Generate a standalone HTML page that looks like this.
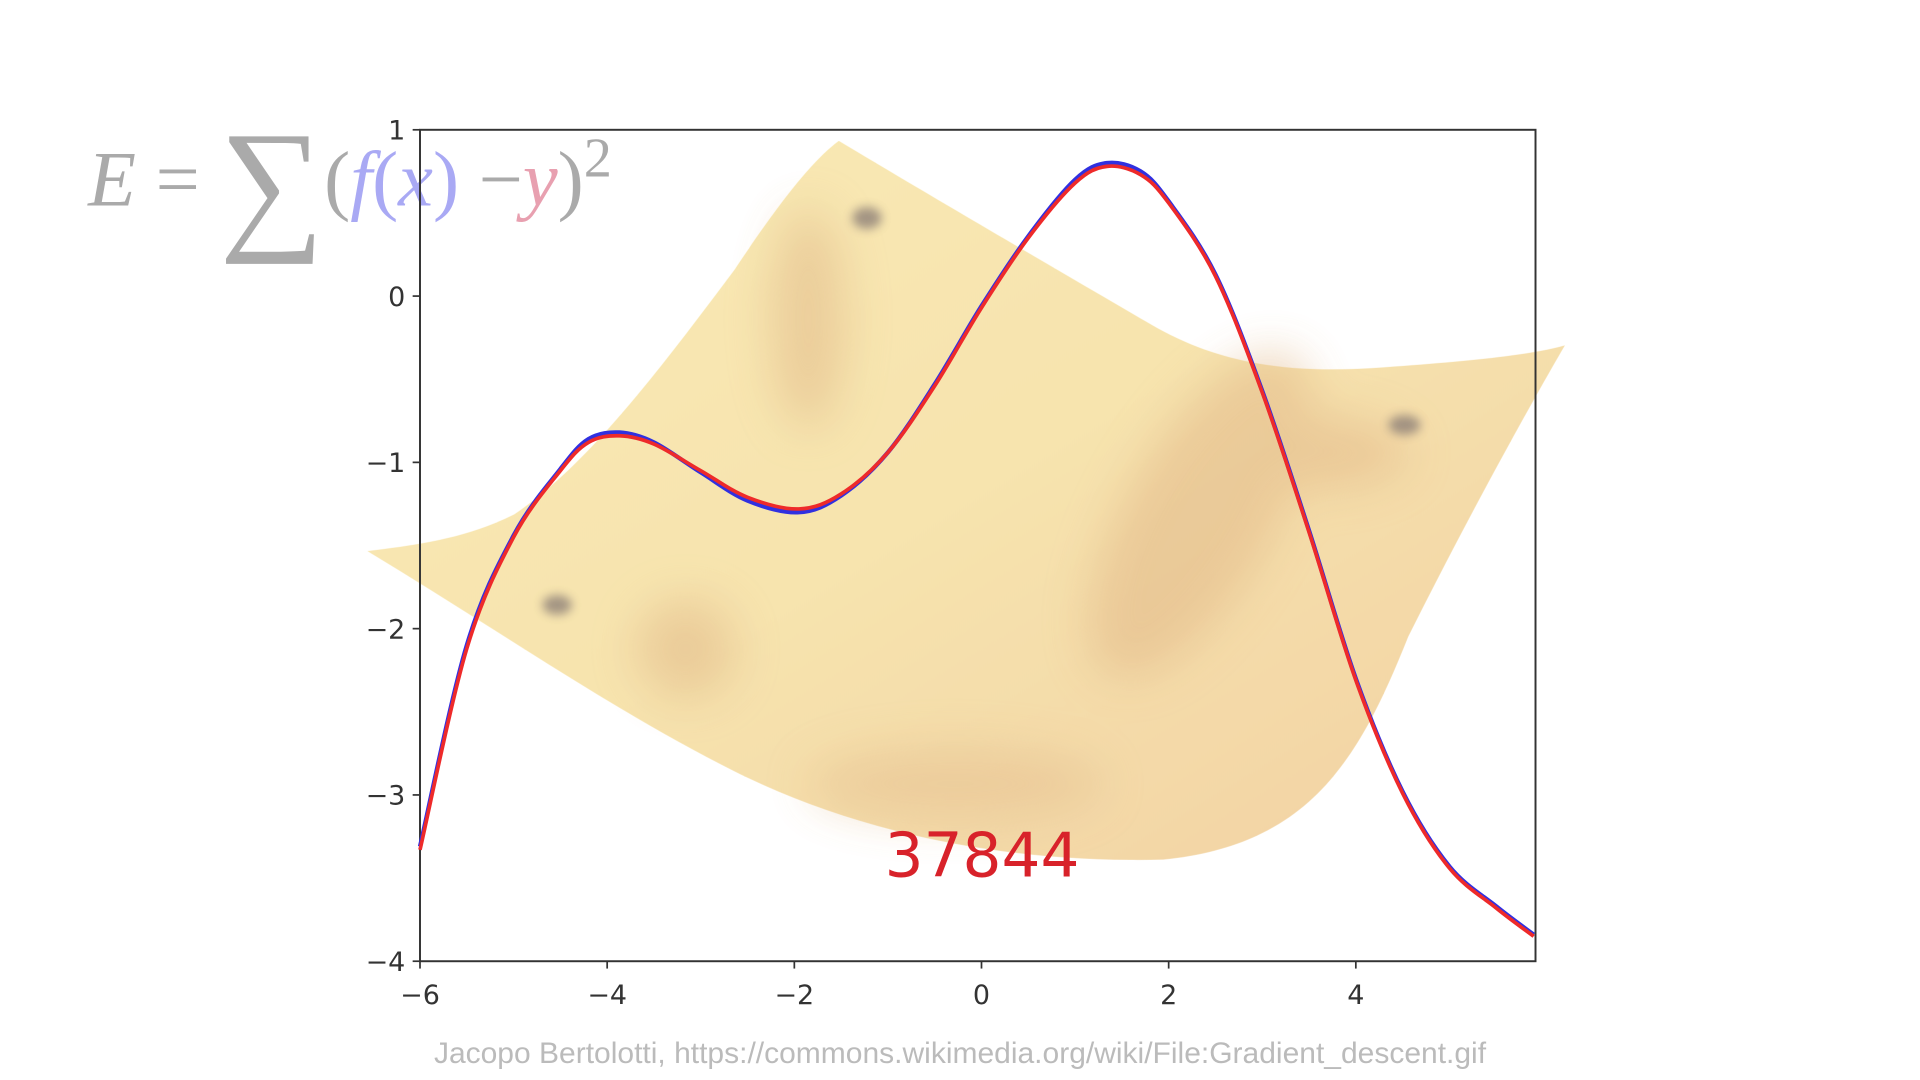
<!DOCTYPE html>
<html><head><meta charset="utf-8"><style>
html,body{margin:0;padding:0;background:#fff;width:1920px;height:1080px;overflow:hidden}
svg{display:block}
</style></head><body>
<svg id="chart" width="1920" height="1080" viewBox="0 0 1568 882" preserveAspectRatio="none" xmlns="http://www.w3.org/2000/svg">
<defs>
<linearGradient id="surf" x1="0" y1="0" x2="1" y2="1">
<stop offset="0" stop-color="#f9e7a8"/><stop offset="0.5" stop-color="#f6dfa0"/><stop offset="1" stop-color="#efc893"/>
</linearGradient>
<filter id="blur"><feGaussianBlur stdDeviation="18"/></filter>
<filter id="blur2"><feGaussianBlur stdDeviation="4"/></filter>
</defs>
<g opacity="0.85">
<path d="M685,115 C760,160 880,230 940,265 C1000,300 1060,305 1130,300 C1200,295 1250,290 1278,282 C1250,330 1200,420 1150,520 C1110,620 1070,690 950,702 C820,705 700,680 600,630 C500,580 400,510 300,450 C340,445 380,440 420,420 C480,380 540,300 600,220 C640,160 665,130 685,115 Z" fill="url(#surf)"/>
<g filter="url(#blur)" opacity="0.5">
<ellipse cx="660" cy="260" rx="30" ry="90" fill="#d9a870"/>
<ellipse cx="980" cy="420" rx="60" ry="150" fill="#dba870" transform="rotate(30 980 420)"/>
<ellipse cx="560" cy="530" rx="40" ry="40" fill="#d9a870"/>
<ellipse cx="1070" cy="370" rx="80" ry="30" fill="#dba870"/>
<ellipse cx="780" cy="640" rx="120" ry="30" fill="#e0b37a"/>
</g>
<g filter="url(#blur2)" fill="#7a6a60" opacity="0.8">
<ellipse cx="708" cy="178" rx="12" ry="9"/>
<ellipse cx="1147" cy="347" rx="13" ry="8"/>
<ellipse cx="455" cy="494" rx="12" ry="8"/>
</g>
</g>
<text x="72" y="168" font-family="Liberation Serif, serif" font-size="64" fill="#aaa" font-style="italic">E <tspan font-style="normal">=</tspan> <tspan font-style="normal" font-size="120" dy="22">∑</tspan><tspan font-style="normal" dy="-22">(</tspan><tspan fill="#a9a9f4">f</tspan><tspan fill="#a9a9f4" font-style="normal">(</tspan><tspan fill="#a9a9f4">x</tspan><tspan fill="#a9a9f4" font-style="normal">)</tspan><tspan font-style="normal"> −</tspan><tspan fill="#e8a0b0">y</tspan><tspan font-style="normal">)</tspan><tspan font-style="normal" font-size="46" dy="-24">2</tspan></text>
<g id="axes"></g>
<g id="series"></g>
<text x="802" y="716" text-anchor="middle" font-family="DejaVu Sans, sans-serif" font-size="50" fill="#d8222a">37844</text>
<text x="784" y="868" text-anchor="middle" font-family="Liberation Sans, sans-serif" font-size="24.5" fill="#bbb">Jacopo Bertolotti, https://commons.wikimedia.org/wiki/File:Gradient_descent.gif</text>
</svg>
<script>
const xTicks=[-6,-4,-2,0,2,4];
const yTicks=[1,0,-1,-2,-3,-4];
const xData=[-6,-5.5,-5,-4.5,-4.2,-3.87,-3.5,-3,-2.5,-1.95,-1.5,-1,-0.5,0,0.5,1,1.34,1.7,2,2.5,3,3.5,4,4.5,5,5.5,5.9];
const yRed=[-3.33,-2.12,-1.45,-1.05,-0.88,-0.84,-0.89,-1.05,-1.21,-1.28,-1.19,-0.94,-0.54,-0.07,0.35,0.68,0.78,0.73,0.56,0.12,-0.58,-1.42,-2.31,-2.99,-3.44,-3.68,-3.85];
const yBlue=[-3.31,-2.10,-1.44,-1.04,-0.86,-0.82,-0.88,-1.06,-1.23,-1.30,-1.20,-0.94,-0.53,-0.06,0.36,0.70,0.80,0.75,0.57,0.13,-0.57,-1.41,-2.30,-2.98,-3.43,-3.67,-3.84];
const L=343,R=1254,T=106,B=785,xmin=-6,xmax=5.92,ymin=-4,ymax=1;
function sx(v){return L+(v-xmin)/(xmax-xmin)*(R-L);}
function sy(v){return B-(v-ymin)/(ymax-ymin)*(B-T);}
const NS="http://www.w3.org/2000/svg";
function mk(tag,attrs,parent){const e=document.createElementNS(NS,tag);for(const k in attrs)e.setAttribute(k,attrs[k]);parent.appendChild(e);return e;}
const ax=document.getElementById('axes');
const frame=mk('rect',{x:L,y:T,width:R-L,height:B-T,fill:'none',stroke:'#333','stroke-width':1.6},ax);


xTicks.forEach(v=>{
 const t=mk('line',{x1:sx(v),x2:sx(v),y1:B,y2:B+6,stroke:'#333','stroke-width':1.4},ax);
 
 
 const l=mk('text',{x:sx(v),y:B+35,'text-anchor':'middle','font-family':'DejaVu Sans, sans-serif','font-size':22,fill:'#333'},ax);
 l.textContent=(v<0?'\u2212'+(-v):v);
 
 
});
yTicks.forEach(v=>{
 const t=mk('line',{x1:L-6,x2:L,y1:sy(v),y2:sy(v),stroke:'#333','stroke-width':1.4},ax);
 
 
 const l=mk('text',{x:L-12,y:sy(v)+8,'text-anchor':'end','font-family':'DejaVu Sans, sans-serif','font-size':22,fill:'#333'},ax);
 l.textContent=(v<0?'\u2212'+(-v):v);
 
 
});
function pathFor(xs,ys){
 const p=xs.map((x,i)=>[sx(x),sy(ys[i])]);
 let d='M'+p[0][0]+','+p[0][1];
 for(let i=0;i<p.length-1;i++){
  const p0=p[i-1]||p[i],p1=p[i],p2=p[i+1],p3=p[i+2]||p2;
  const c1=[p1[0]+(p2[0]-p0[0])/6,p1[1]+(p2[1]-p0[1])/6];
  const c2=[p2[0]-(p3[0]-p1[0])/6,p2[1]-(p3[1]-p1[1])/6];
  d+=' C'+c1+' '+c2+' '+p2;
 }
 return d;
}
const sg=document.getElementById('series');
const bl=mk('path',{d:pathFor(xData,yBlue),fill:'none',stroke:'#3030e0','stroke-width':3.5},sg);


const rd=mk('path',{d:pathFor(xData,yRed),fill:'none',stroke:'#ee2a2a','stroke-width':3},sg);


</script>
</body></html>
